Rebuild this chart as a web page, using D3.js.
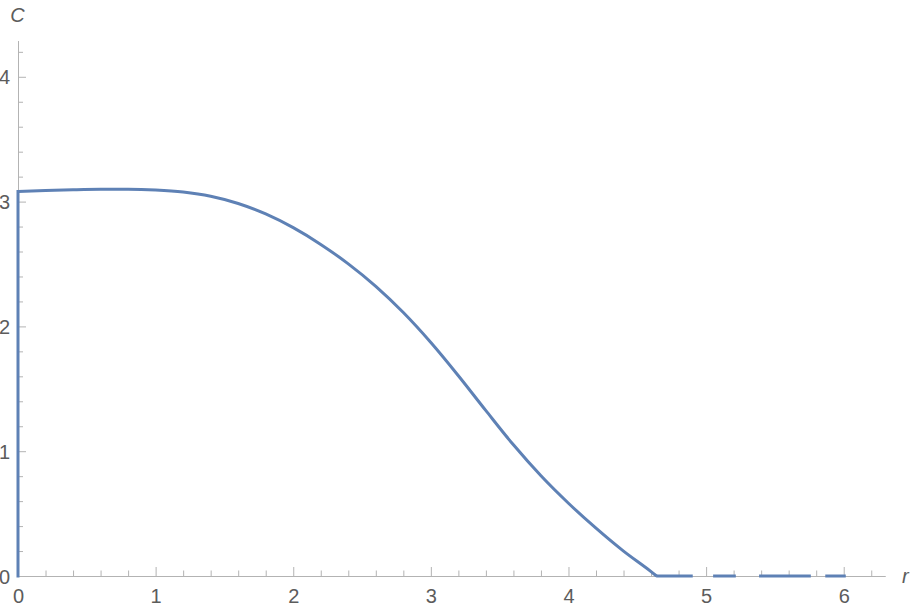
<!DOCTYPE html>
<html>
<head>
<meta charset="utf-8">
<script src="https://cdn.jsdelivr.net/npm/d3@7"></script>
<style>
  html, body { margin: 0; padding: 0; background: #fff; }
  svg { display: block; }
  text { font-family: "Liberation Sans", Arial, sans-serif; }
</style>
</head>
<body>
<script>
// ---- data ----
const rValues = [0, 0.2, 0.4, 0.6, 0.8, 1.0, 1.2, 1.4, 1.6, 1.8, 2.0, 2.2, 2.4, 2.6, 2.8, 3.0, 3.2, 3.4, 3.6, 3.8, 4.0, 4.2, 4.4, 4.6, 4.64];
const cValues = [3.080, 3.088, 3.095, 3.099, 3.099, 3.093, 3.077, 3.043, 2.985, 2.901, 2.791, 2.657, 2.501, 2.321, 2.111, 1.871, 1.605, 1.325, 1.051, 0.803, 0.583, 0.383, 0.199, 0.035, 0];
// dashed pieces lying on C = 0 beyond the curve
const zeroSegStart = [4.637, 5.051, 5.385, 5.866];
const zeroSegEnd   = [4.903, 5.216, 5.761, 6.015];
const xTickLabels = [0, 1, 2, 3, 4, 5, 6];
const yTickLabels = [0, 1, 2, 3, 4];
const xMinorTicks = d3.range(0, 6.3, 0.2).map(v => +v.toFixed(1)).filter(v => Math.abs(v - Math.round(v)) > 1e-6);
const yMinorTicks = d3.range(0, 4.3, 0.2).map(v => +v.toFixed(1)).filter(v => Math.abs(v - Math.round(v)) > 1e-6);
const xAxisLabel = "r";
const yAxisLabel = "C";

// ---- layout ----
const W = 913, H = 616;
const lineColor = "#5E81B5";
const axisColor = "#b3b3b3";
const labelColor = "#5c5c5c";
const fontSize = 20;

const x = d3.scaleLinear().domain([0, 6.3]).range([18, 885]);
const y = d3.scaleLinear().domain([0, 4.29]).range([576, 40.6]);

const svg = d3.select("body").append("svg").attr("width", W).attr("height", H);

function styleAxis(g, withLabels) {
  g.select(".domain").attr("stroke", axisColor);
  g.selectAll(".tick line").attr("stroke", axisColor);
  g.selectAll(".tick text")
    .attr("fill", labelColor)
    .style("font-size", fontSize + "px")
    .style("font-family", '"Liberation Sans", Arial, sans-serif');
  if (!withLabels) g.selectAll(".tick text").remove();
}

// minor ticks
svg.append("g").attr("transform", `translate(0,${y(0)})`)
  .call(d3.axisBottom(x).tickValues(xMinorTicks).tickSizeInner(-5.5).tickSizeOuter(0).tickFormat(""))
  .call(g => styleAxis(g, false));
svg.append("g").attr("transform", `translate(${x(0)},0)`)
  .call(d3.axisLeft(y).tickValues(yMinorTicks).tickSizeInner(-5).tickSizeOuter(0).tickFormat(""))
  .call(g => styleAxis(g, false));

// major ticks
svg.append("g").attr("transform", `translate(0,${y(0)})`)
  .call(d3.axisBottom(x).tickValues(xTickLabels).tickSizeInner(-9).tickSizeOuter(0).tickPadding(13).tickFormat(d3.format("d")))
  .call(g => styleAxis(g, true));
svg.append("g").attr("transform", `translate(${x(0)},0)`)
  .call(d3.axisLeft(y).tickValues(yTickLabels).tickSizeInner(-8).tickSizeOuter(0).tickPadding(8).tickFormat(d3.format("d")))
  .call(g => { styleAxis(g, true); g.selectAll(".tick text").attr("dy", "0.36em"); });

// axis titles
svg.append("text").attr("x", x(6.3) + 17).attr("y", y(0) + 7)
  .attr("text-anchor", "start").attr("fill", labelColor)
  .style("font-size", fontSize + "px").style("font-style", "italic").text(xAxisLabel);
svg.append("text").attr("x", x(0) - 0.5).attr("y", 22)
  .attr("text-anchor", "middle").attr("fill", labelColor)
  .style("font-size", fontSize + "px").style("font-style", "italic").text(yAxisLabel);

// curve
const pts = rValues.map((r, i) => [r, cValues[i]]);
const line = d3.line().x(d => x(d[0])).y(d => y(d[1])).curve(d3.curveMonotoneX);
const plot = svg.append("g");
const sw = 3;
plot.append("path")
  .attr("d", d3.line().x(d => x(d[0])).y(d => y(d[1]))([[0, 0], [0, cValues[0]]]))
  .attr("fill", "none").attr("stroke", lineColor).attr("stroke-width", sw).attr("stroke-linecap", "square");
plot.append("path").attr("d", line(pts))
  .attr("fill", "none").attr("stroke", lineColor).attr("stroke-width", sw).attr("stroke-linejoin", "round");

// zero pieces
plot.selectAll("line.zero").data(zeroSegStart.map((s, i) => [s, zeroSegEnd[i]]))
  .enter().append("line").attr("class", "zero")
  .attr("x1", d => x(d[0])).attr("x2", d => x(d[1]))
  .attr("y1", y(0)).attr("y2", y(0))
  .attr("stroke", lineColor).attr("stroke-width", sw);
</script>
</body>
</html>
